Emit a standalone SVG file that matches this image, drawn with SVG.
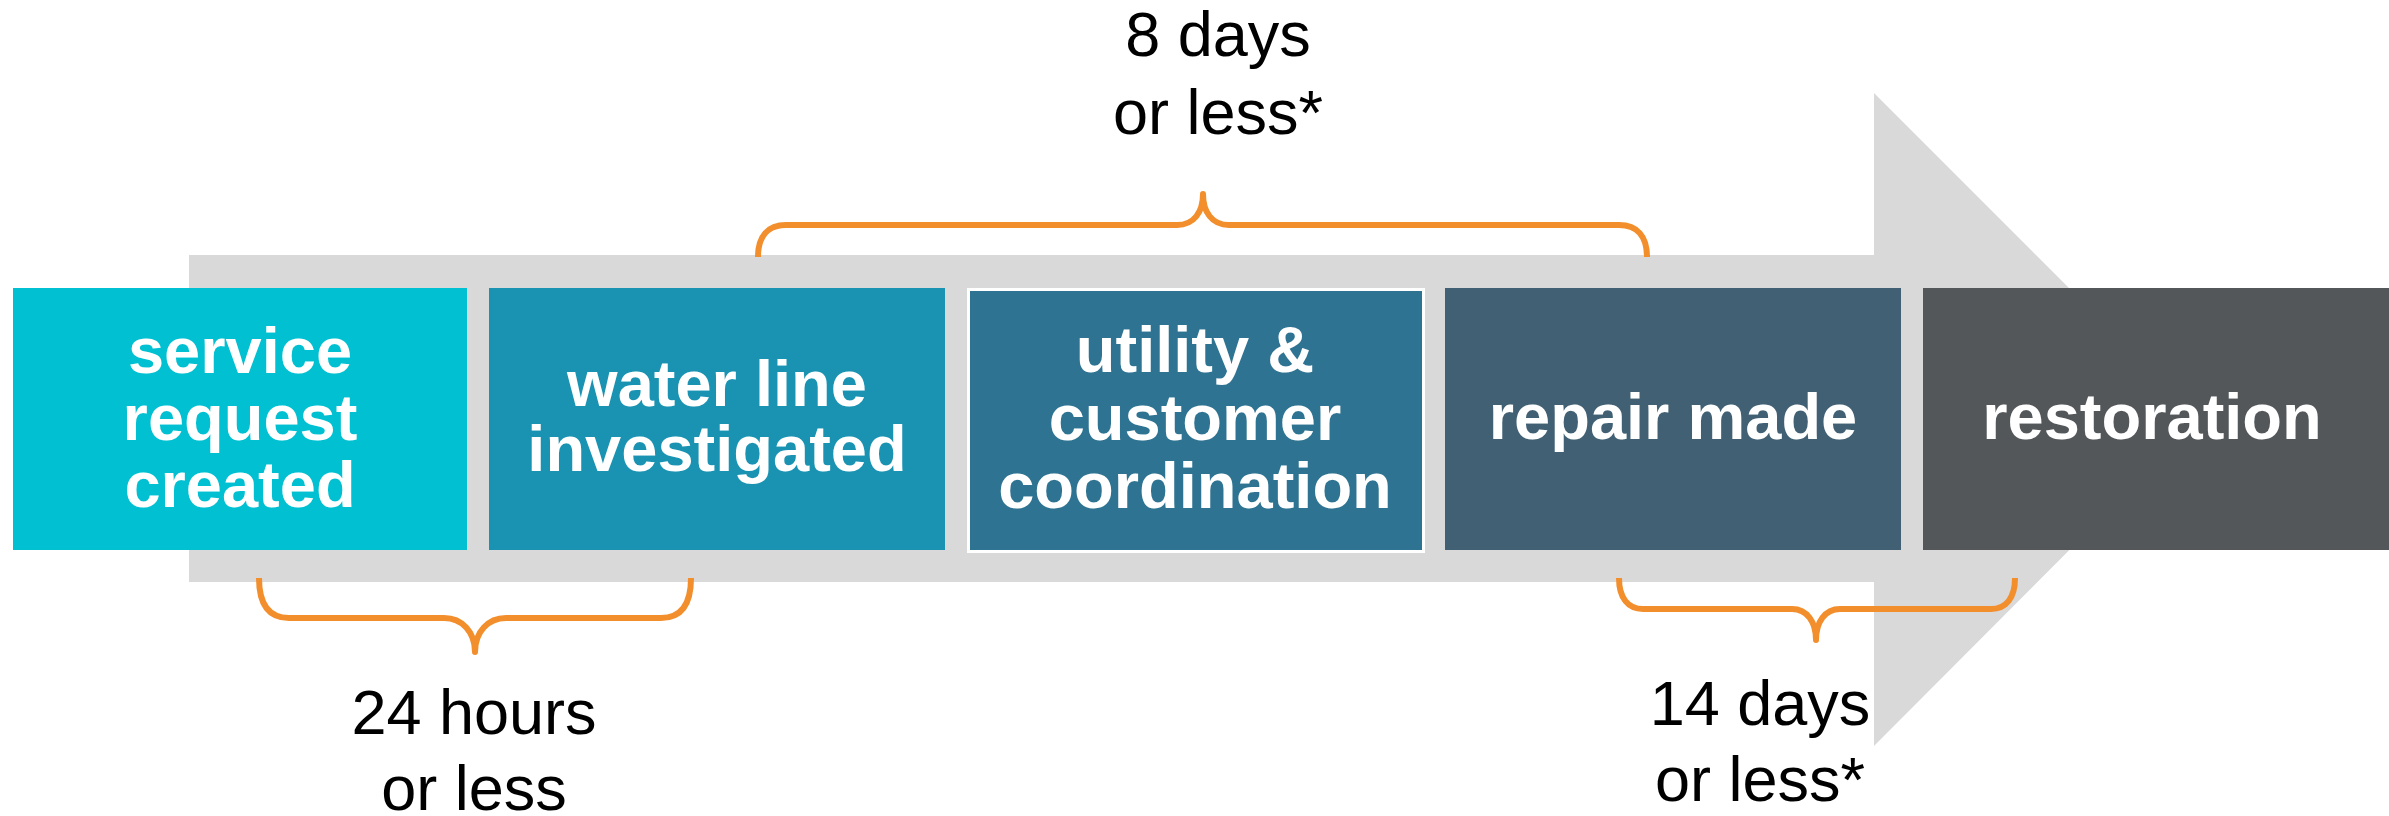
<svg xmlns="http://www.w3.org/2000/svg" width="2389" height="816" viewBox="0 0 2389 816">
<style>
.box text{font-family:"Liberation Sans",Arial,sans-serif;font-weight:bold;font-size:65px;fill:#FFFFFF;text-anchor:middle}
.lbl{font-family:"Liberation Sans",Arial,sans-serif;font-size:63px;fill:#000000;text-anchor:middle}
.brace{fill:none;stroke:#F28E2C;stroke-width:6;stroke-linejoin:round}
</style>
<rect width="2389" height="816" fill="#FFFFFF"/>
<g id="arrow">
<path d="M189,255 L1874,255 L1874,93 L2200,419 L1874,746 L1874,582 L189,582 Z" fill="#D9D9D9"/>
</g>
<g id="node-service" class="box">
<rect x="13" y="288" width="454" height="262" fill="#00C0D2"/>
<text x="240" y="373">service</text>
<text x="240" y="440">request</text>
<text x="240" y="507">created</text>
</g>
<g id="node-water" class="box">
<rect x="489" y="288" width="456" height="262" fill="#1A93B2"/>
<text x="717" y="406">water line</text>
<text x="717" y="471">investigated</text>
</g>
<g id="node-utility" class="box">
<rect x="968.5" y="289.5" width="455" height="262" fill="#2E7391" stroke="#FFFFFF" stroke-width="3"/>
<text x="1195" y="372">utility &amp;</text>
<text x="1195" y="440">customer</text>
<text x="1195" y="508">coordination</text>
</g>
<g id="node-repair" class="box">
<rect x="1445" y="288" width="456" height="262" fill="#416073"/>
<text x="1673" y="439">repair made</text>
</g>
<g id="node-restoration" class="box">
<rect x="1923" y="288" width="466" height="262" fill="#53575A"/>
<text x="2152" y="439">restoration</text>
</g>
<g id="connectors">
<path class="brace" d="M758,257 C758,236 768,225 786,225 L1177,225 C1194,225 1203,212 1203,194 C1203,212 1212,225 1229,225 L1619,225 C1637,225 1647,236 1647,257"/>
<path class="brace" d="M259,578 C259,603 268,618 289,618 L444,618 C462,618 475,632 475,652 C475,632 488,618 506,618 L661,618 C682,618 691,603 691,578"/>
<path class="brace" d="M1619,578 C1619,598 1628,609 1643,609 L1792,609 C1807,609 1816,622 1816,640 C1816,622 1825,609 1840,609 L1991,609 C2006,609 2015,598 2015,578"/>
</g>
<g id="labels">
<text class="lbl" x="1218" y="56">8 days</text>
<text class="lbl" x="1218" y="134">or less*</text>
<text class="lbl" x="474" y="734">24 hours</text>
<text class="lbl" x="474" y="810">or less</text>
<text class="lbl" x="1760" y="725">14 days</text>
<text class="lbl" x="1760" y="801">or less*</text>
</g>
</svg>
